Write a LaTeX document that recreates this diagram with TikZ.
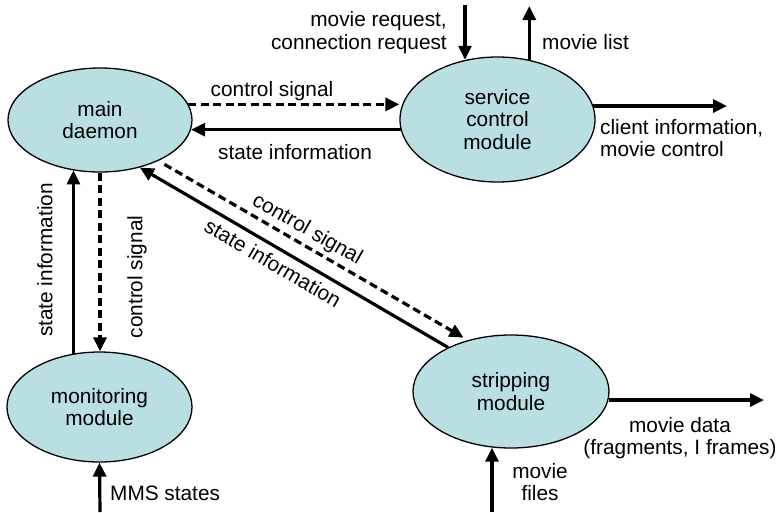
\documentclass[tikz,border=0pt]{standalone}
\usepackage{fontspec}
\setmainfont{Liberation Sans}
\usetikzlibrary{arrows.meta,shapes.geometric}
\definecolor{bubble}{RGB}{185,223,227}
\begin{document}
\begin{tikzpicture}[x=1pt,y=-1pt,
  font=\fontsize{20.8}{22.5}\selectfont,
  bub/.style={ellipse,draw=black,line width=1.3pt,fill=bubble,inner sep=0pt,align=center},
  solidarrow/.style={line width=3.2pt,-{Triangle[length=14pt,width=13pt]}},
  dasharrow/.style={line width=3.2pt,dash pattern=on 8pt off 4.5pt,-{Triangle[length=14pt,width=13pt]}},
  lbl/.style={inner sep=0pt}]
\useasboundingbox (0,0) rectangle (780,512);
\node[bub,minimum width=184pt,minimum height=104pt] (main) at (100,120) {main\\daemon};
\node[bub,minimum width=195pt,minimum height=125pt] (svc) at (497.5,119.5) {service\\control\\module};
\node[bub,minimum width=185pt,minimum height=110pt] (mon) at (99.5,407) {monitoring\\module};
\node[bub,minimum width=196pt,minimum height=113pt] (strip) at (511,391.5) {stripping\\module};

\coordinate (mreqtop) at (465,5);
\coordinate (mlisttop) at (528,6);
\coordinate (cinfoend) at (727,106);
\coordinate (mdataend) at (764,400);
\coordinate (mfbot) at (492,512);
\coordinate (mmsbot) at (100,512);

% main <-> service
\draw[dasharrow] (main.10) -- (main.10 -| svc.west);
\draw[solidarrow] (svc.186) -- (svc.186 -| main.-6.3);
% main <-> monitoring
\draw[solidarrow] (mon.116.7) -- (mon.116.7 |- main.-118.5);
\draw[dasharrow] (main.south) -- (main.south |- mon.north);
% main <-> stripping
\draw[solidarrow] (strip.145.1) -- (main.-50.2);
\draw[dasharrow,shorten <=7pt,shorten >=5pt] (main.-35.5) -- (strip.130.6);
% external
\draw[solidarrow] (mreqtop) -- (mreqtop |- svc.118.9);
\draw[solidarrow] (svc.62.8) -- (svc.62.8 |- mlisttop);
\draw[solidarrow] (svc.8.1) -- (svc.8.1 -| cinfoend);
\draw[solidarrow] (strip.-5) -- (strip.-5 -| mdataend);
\draw[solidarrow] (mfbot) -- (mfbot |- strip.-108.9);
\draw[solidarrow] (mmsbot) -- (mon.south);

% labels
\node[lbl,anchor=east,align=right] (lreq) at (447,32.5) {movie request,\\connection request};
\node[lbl,anchor=west] (llist) at (542,42) {movie list};
\node[lbl] (lcs1) at (272,91) {control signal};
\node[lbl] (lsi1) at (295,152) {state information};
\node[lbl,anchor=west,align=left] (lci) at (600,138) {client information,\\movie control};
\node[lbl,rotate=90] (lsi2) at (45,260) {state information};
\node[lbl,rotate=90] (lcs2) at (137,277) {control signal};
\node[lbl,rotate=-29.7] (lcs3) at (307,230) {control signal};
\node[lbl,rotate=-30.3] (lsi3) at (273,263) {state information};
\node[lbl,align=center] (lmd) at (680,438) {movie data\\(fragments, I frames)};
\node[lbl,align=center] (lmf) at (540,482) {movie\\files};
\node[lbl,anchor=west] (lmms) at (110,493) {MMS states};
\end{tikzpicture}
\end{document}
